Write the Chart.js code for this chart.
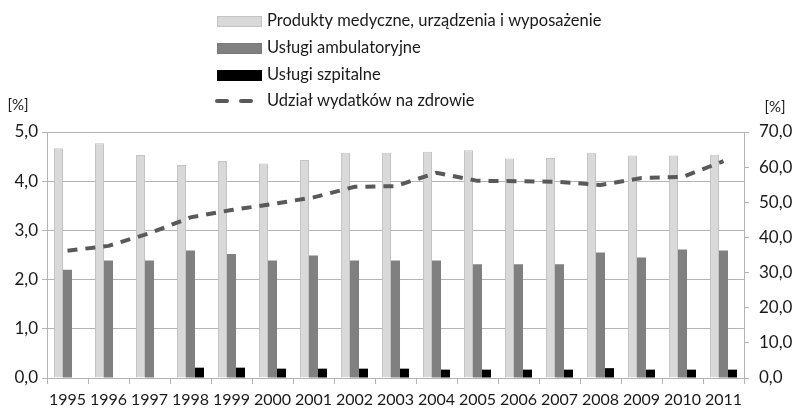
<!DOCTYPE html>
<html>
<head>
<meta charset="utf-8">
<script src="https://cdn.jsdelivr.net/npm/chart.js@4.4.1/dist/chart.umd.min.js"></script>
<style>
  html, body { margin: 0; padding: 0; background: #fff; }
</style>
</head>
<body>
<canvas id="wykres" width="799" height="420"></canvas>
<script>
// dane
var lata = ['1995', '1996', '1997', '1998', '1999', '2000', '2001', '2002', '2003',
  '2004', '2005', '2006', '2007', '2008', '2009', '2010', '2011'];
var produktyMedyczne = [4.67, 4.77, 4.53, 4.33, 4.41, 4.36, 4.43, 4.58, 4.58,
  4.60, 4.63, 4.46, 4.47, 4.58, 4.52, 4.52, 4.54];
var uslugiAmbulatoryjne = [2.20, 2.39, 2.39, 2.59, 2.52, 2.39, 2.49, 2.39, 2.39,
  2.39, 2.31, 2.31, 2.31, 2.55, 2.45, 2.61, 2.59];
var uslugiSzpitalne = [0, 0, 0, 0.21, 0.21, 0.19, 0.19, 0.19, 0.19,
  0.17, 0.17, 0.17, 0.17, 0.20, 0.17, 0.17, 0.17];
var udzialWydatkow = [36.2, 37.6, 41.2, 45.7, 47.8, 49.5, 51.4, 54.4, 54.6,
  58.4, 56.1, 56.0, 55.8, 54.9, 56.9, 57.2, 61.7];
var etykietyLegendy = ['Produkty medyczne, urządzenia i wyposażenie', 'Usługi ambulatoryjne',
  'Usługi szpitalne', 'Udział wydatków na zdrowie'];

var FONT = 'Lato, "Liberation Sans", sans-serif';
var GRID = '#b4b4b4';

function przecinek(v) {
  return Number(v).toFixed(1).replace('.', ',');
}

// legenda pionowa + opisy [%]
var legendaPlugin = {
  id: 'legendaPionowa',
  afterDraw: function (chart) {
    var c = chart.ctx;
    c.save();
    c.font = '16.5px ' + FONT;
    c.textBaseline = 'middle';
    c.fillStyle = '#1a1a1a';
    var ys = [21, 48, 75, 101];
    var ds = chart.data.datasets;
    for (var i = 0; i < 4; i++) {
      if (i < 3) {
        c.fillStyle = ds[i].backgroundColor;
        c.fillRect(217, ys[i] - 5, 45, 11);
        c.strokeStyle = ds[i].borderColor;
        c.lineWidth = 1;
        c.strokeRect(217.5, ys[i] - 4.5, 44, 10);
      } else {
        c.strokeStyle = ds[i].borderColor;
        c.lineWidth = 4;
        c.lineCap = 'round';
        c.beginPath();
        c.moveTo(217, ys[i]); c.lineTo(227, ys[i]);
        c.moveTo(241, ys[i]); c.lineTo(251, ys[i]);
        c.stroke();
      }
      c.fillStyle = '#1a1a1a';
      c.textAlign = 'left';
      c.fillText(etykietyLegendy[i], 267, ys[i]);
    }
    c.font = '15px ' + FONT;
    c.textAlign = 'center';
    c.fillText('[%]', 18, 105);
    c.fillText('[%]', 775, 107);
    c.restore();
  }
};

var ctx = document.getElementById('wykres');
var wykres = new Chart(ctx, {
  type: 'bar',
  data: {
    labels: lata,
    datasets: [{
      label: etykietyLegendy[0],
      data: produktyMedyczne,
      backgroundColor: '#d9d9d9',
      borderColor: '#c3c3c3',
      borderWidth: 1,
      yAxisID: 'y',
      order: 2
    }, {
      label: etykietyLegendy[1],
      data: uslugiAmbulatoryjne,
      backgroundColor: '#808080',
      borderColor: '#7a7a7a',
      borderWidth: 0,
      yAxisID: 'y',
      order: 2
    }, {
      label: etykietyLegendy[2],
      data: uslugiSzpitalne,
      backgroundColor: '#000000',
      borderColor: '#000000',
      borderWidth: 0,
      yAxisID: 'y',
      order: 2
    }, {
      type: 'line',
      label: etykietyLegendy[3],
      data: udzialWydatkow,
      borderColor: '#595959',
      backgroundColor: '#595959',
      borderWidth: 4,
      borderDash: [10, 8],
      pointRadius: 0,
      tension: 0,
      fill: false,
      yAxisID: 'y1',
      order: 1
    }]
  },
  options: {
    responsive: false,
    animation: false,
    devicePixelRatio: 1,
    layout: { padding: { top: 132, left: 0, right: 0, bottom: 0 } },
    datasets: {
      bar: { barPercentage: 1, categoryPercentage: 0.66 }
    },
    plugins: {
      legend: { display: false },
      tooltip: { enabled: false }
    },
    scales: {
      x: {
        offset: true,
        grid: {
          offset: true,
          drawOnChartArea: false,
          color: GRID,
          tickLength: 6
        },
        border: { color: GRID },
        ticks: {
          color: '#1a1a1a',
          font: { family: FONT, size: 16 },
          padding: 6,
          maxRotation: 0,
          autoSkip: false
        },
        afterFit: function (s) { s.height = 42; }
      },
      y: {
        position: 'left',
        min: 0,
        max: 5,
        grid: { color: GRID, tickLength: 5 },
        border: { color: GRID },
        ticks: {
          stepSize: 1,
          color: '#1a1a1a',
          font: { family: FONT, size: 17 },
          padding: 4,
          callback: przecinek
        },
        afterFit: function (s) { s.width = 47; }
      },
      y1: {
        position: 'right',
        min: 0,
        max: 70,
        grid: { drawOnChartArea: false, color: GRID, tickLength: 5 },
        border: { color: GRID },
        ticks: {
          stepSize: 10,
          color: '#1a1a1a',
          font: { family: FONT, size: 17 },
          padding: 10,
          callback: przecinek
        },
        afterFit: function (s) { s.width = 55; }
      }
    }
  },
  plugins: [legendaPlugin]
});
</script>
</body>
</html>
